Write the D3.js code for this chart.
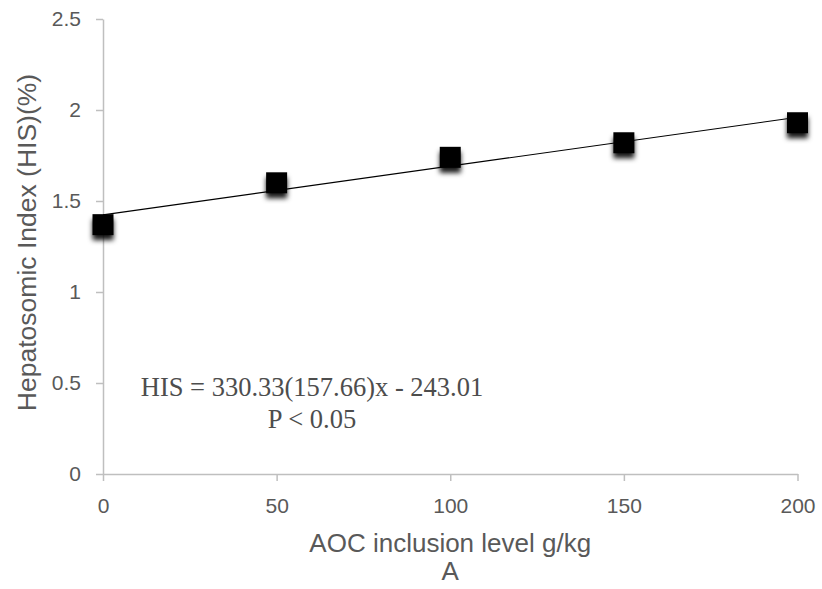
<!DOCTYPE html>
<meta charset="utf-8">
<html lang="en"></html>

<!-- load d3.js -->
<script src="https://d3js.org/d3.v7.min.js"></script>

<style>
    body { margin: 0; background: #fff; }
</style>

<div id="chart"></div>

<script>

    // data
    const levels = [0, 50, 100, 150, 200];
    const hsi = [1.37, 1.60, 1.74, 1.82, 1.93];
    const xTicks = [0, 50, 100, 150, 200];
    const yTicks = [0, 0.5, 1, 1.5, 2, 2.5];
    const equation = ["HIS = 330.33(157.66)x - 243.01", "P < 0.05"];

    const W = 822, H = 589;
    const margin = {top: 19, right: 24.5, bottom: 115, left: 103};
    const grey = "#595959";
    const axisGrey = "#bfbfbf";

    const svg = d3.select("#chart")
        .append("svg")
            .attr("width", W)
            .attr("height", H);

    // marker shadow
    svg.append("defs")
        .append("filter")
            .attr("id", "shadow")
            .attr("x", "-50%").attr("y", "-50%")
            .attr("width", "200%").attr("height", "200%")
        .append("feDropShadow")
            .attr("dx", 0)
            .attr("dy", 5)
            .attr("stdDeviation", 2.8)
            .attr("flood-color", "#000")
            .attr("flood-opacity", 0.9);

    const x = d3.scaleLinear()
        .domain([0, 200])
        .range([margin.left, W - margin.right]);
    const y = d3.scaleLinear()
        .domain([0, 2.5])
        .range([H - margin.bottom, margin.top]);

    // X axis
    const gx = svg.append("g")
        .attr("transform", "translate(0," + y(0) + ")")
        .call(d3.axisBottom(x).tickValues(xTicks).tickSize(7).tickSizeOuter(0).tickPadding(17));
    // Y axis
    const gy = svg.append("g")
        .attr("transform", "translate(" + x(0) + ",0)")
        .call(d3.axisLeft(y).tickValues(yTicks).tickSize(7).tickSizeOuter(0).tickPadding(15)
            .tickFormat(function(d) { return String(d); }));

    [gx, gy].forEach(function(g) {
        g.selectAll("path, line").attr("stroke", axisGrey).attr("stroke-width", 1.5);
        g.selectAll("text")
            .attr("fill", grey)
            .style("font-family", "'Liberation Sans', Arial, sans-serif")
            .style("font-size", "21px");
    });

    // axis titles
    svg.append("text")
        .attr("x", x(100))
        .attr("y", 552)
        .attr("text-anchor", "middle")
        .attr("fill", grey)
        .style("font-family", "'Liberation Sans', Arial, sans-serif")
        .style("font-size", "26px")
        .text("AOC inclusion level g/kg");
    svg.append("text")
        .attr("x", x(100))
        .attr("y", 580)
        .attr("text-anchor", "middle")
        .attr("fill", grey)
        .style("font-family", "'Liberation Sans', Arial, sans-serif")
        .style("font-size", "26px")
        .text("A");
    svg.append("text")
        .attr("transform", "translate(36," + (y(1.25) - 4) + ")rotate(-90)")
        .attr("text-anchor", "middle")
        .attr("fill", grey)
        .style("font-family", "'Liberation Sans', Arial, sans-serif")
        .style("font-size", "26.5px")
        .text("Hepatosomic Index (HIS)(%)");

    // linear trendline (least squares from the points)
    const mx = d3.mean(levels), my = d3.mean(hsi);
    const slope = d3.sum(levels, function(v, i) { return (v - mx) * (hsi[i] - my); }) /
        d3.sum(levels, function(v) { return (v - mx) * (v - mx); });
    const icpt = my - slope * mx;
    svg.append("line")
        .attr("x1", x(0)).attr("y1", y(icpt))
        .attr("x2", x(200)).attr("y2", y(icpt + slope * 200))
        .attr("stroke", "#000")
        .attr("stroke-width", 1.1);

    // square markers
    const size = 21;
    svg.selectAll("rect.pt")
        .data(levels)
        .enter()
        .append("rect")
            .attr("class", "pt")
            .attr("x", function(d) { return x(d) - size / 2; })
            .attr("y", function(d, i) { return y(hsi[i]) - size / 2; })
            .attr("width", size)
            .attr("height", size)
            .attr("fill", "#000")
            .attr("filter", "url(#shadow)");

    // regression equation
    svg.selectAll("text.eq")
        .data(equation)
        .enter()
        .append("text")
            .attr("class", "eq")
            .attr("x", 312)
            .attr("y", function(d, i) { return 396 + i * 32; })
            .attr("text-anchor", "middle")
            .attr("fill", "#4d4d4d")
            .style("font-family", "'Liberation Serif', 'Times New Roman', serif")
            .style("font-size", "26.5px")
            .text(function(d) { return d; });
</script>
